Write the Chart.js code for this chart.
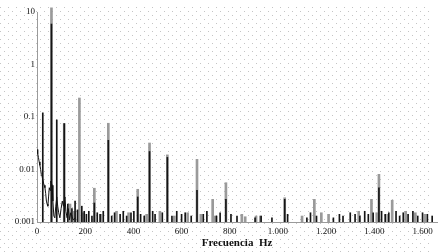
<!DOCTYPE html>
<html>
<head>
<meta charset="utf-8">
<script src="https://cdn.jsdelivr.net/npm/chart.js@4"></script>
<style>
  html, body { margin: 0; padding: 0; background: #fff; }
</style>
</head>
<body>
<canvas id="spectrum" width="442" height="252"></canvas>
<script>
// tick labels
const xTicks = [0, 200, 400, 600, 800, 1000, 1200, 1400, 1600];
const yTicks = [0.001, 0.01, 0.1, 1, 10];

// low frequency continuum (black trace)
const lowHz  = [0, 3, 6, 9, 12, 15, 18, 21, 27, 30, 33, 36, 39, 42, 45, 48, 51, 54, 57, 63, 66, 70, 74, 78, 82, 86, 90, 95, 100, 105, 110, 116, 120, 125, 130, 135, 140, 150, 160];
const lowAmp = [0.024, 0.02, 0.017, 0.014, 0.012, 0.01, 0.008, 0.0075, 0.0055, 0.005, 0.0045, 0.0035, 0.0025, 0.0022, 0.002, 0.003, 0.0045, 0.004, 0.006, 0.005, 0.0025, 0.0013, 0.0012, 0.002, 0.003, 0.002, 0.0015, 0.0012, 0.0018, 0.0025, 0.002, 0.003, 0.0016, 0.0012, 0.0018, 0.0011, 0.0015, 0.0011, 0.0012];

// peaks, black trace
const blackHz  = [24, 60, 82, 113, 238, 296, 418, 467, 541, 664, 784, 1028, 1419,
  128, 145, 158, 168, 186, 196,
  205, 215, 228, 250, 262, 275, 310, 322, 345, 358, 372, 390, 402, 430, 445, 480, 490, 520, 560, 580, 600, 615, 640, 690, 705, 745, 760, 805, 830, 905, 930, 975, 1040, 1120, 1135, 1160, 1230, 1255, 1270, 1300, 1320, 1340, 1360, 1375, 1395, 1430, 1445, 1460, 1490, 1505, 1520, 1540, 1560, 1580, 1600, 1620, 1640];
const blackAmp = [0.12, 5.9, 0.088, 0.075, 0.0023, 0.036, 0.003, 0.022, 0.017, 0.004, 0.0027, 0.0027, 0.0045,
  0.0022, 0.0018, 0.0025, 0.0017, 0.002, 0.0016,
  0.0014, 0.0016, 0.0013, 0.0015, 0.0014, 0.0016, 0.0013, 0.0015, 0.0014, 0.0016, 0.0013, 0.0015, 0.0016, 0.0014, 0.0013, 0.0016, 0.0014, 0.0015, 0.0013, 0.0016, 0.0014, 0.0015, 0.0013, 0.0014, 0.0016, 0.0013, 0.0015, 0.0014, 0.0013, 0.0012, 0.0013, 0.0012, 0.0014, 0.0012, 0.0015, 0.0013, 0.0012, 0.0014, 0.0013, 0.0015, 0.0014, 0.0013, 0.0016, 0.0014, 0.0015, 0.0016, 0.0014, 0.0015, 0.0016, 0.0013, 0.0015, 0.0014, 0.0016, 0.0013, 0.0015, 0.0014, 0.0013];

// peaks, grey trace
const greyHz  = [60, 113, 137, 176, 238, 296, 418, 467, 541, 664, 729, 784, 864, 909, 927, 1028, 1151, 1388, 1419, 1474,
  155, 190, 265, 330, 380, 455, 510, 570, 625, 680, 740, 850, 1100, 1180, 1210, 1335, 1410, 1455, 1530, 1570, 1610];
const greyAmp = [12, 0.075, 0.0022, 0.23, 0.0044, 0.076, 0.0042, 0.032, 0.019, 0.0156, 0.0027, 0.0056, 0.00126, 0.0013, 0.0013, 0.0029, 0.0027, 0.0027, 0.0081, 0.0026,
  0.0016, 0.0015, 0.0014, 0.0016, 0.0015, 0.0014, 0.0016, 0.0013, 0.0015, 0.0014, 0.0013, 0.0014, 0.0013, 0.0015, 0.0014, 0.0016, 0.0015, 0.0014, 0.0016, 0.0015, 0.0014];

const pts = (xs, ys) => xs.map((x, i) => ({ x: x, y: ys[i] }));

// dotted paper background
const dots = {
  id: 'dots',
  beforeDraw(chart) {
    const ctx = chart.ctx;
    ctx.save();
    ctx.fillStyle = '#c4c4c4';
    let row = 0;
    for (let y = 7; y < 252; y += 4, row++) {
      for (let x = row % 2 ? 4 : 0; x < 430; x += 8) ctx.fillRect(x, y, 1, 1);
    }
    ctx.restore();
  }
};

const fmt = v => v >= 1000 ? String(v).replace(/(\d)(\d{3})$/, '$1.$2') : String(v);

new Chart(document.getElementById('spectrum'), {
  type: 'bar',
  data: {
    datasets: [
      {
        type: 'line',
        data: pts(lowHz, lowAmp),
        borderColor: '#111',
        borderWidth: 1,
        pointRadius: 0,
        tension: 0
      },
      {
        data: pts(blackHz, blackAmp),
        backgroundColor: '#151515',
        barThickness: 1,
        grouped: false
      },
      {
        data: pts(greyHz, greyAmp),
        backgroundColor: '#9a9a9a',
        barThickness: 2,
        grouped: false,
        clip: false
      }
    ]
  },
  options: {
    responsive: false,
    animation: false,
    devicePixelRatio: 1,
    layout: { padding: { top: 12, right: 5, left: 0, bottom: 0 } },
    plugins: { legend: { display: false }, tooltip: { enabled: false } },
    scales: {
      x: {
        type: 'linear',
        min: 0,
        max: 1660,
        offset: false,
        afterBuildTicks: s => { s.ticks = xTicks.map(v => ({ value: v })); },
        afterFit: s => { s.height = 30; },
        grid: { display: true, drawOnChartArea: false, drawTicks: false, offset: false },
        border: { display: true, color: '#9a9a9a', width: 1 },
        ticks: {
          maxRotation: 0,
          padding: 4,
          color: '#111',
          font: { family: 'Liberation Serif', size: 9 },
          callback: v => fmt(v)
        },
        title: {
          display: true,
          text: 'Frecuencia  Hz',
          color: '#111',
          padding: { top: 0, bottom: 2 },
          font: { family: 'Liberation Serif', size: 11, weight: 'bold' }
        }
      },
      y: {
        type: 'logarithmic',
        min: 0.001,
        max: 10,
        afterBuildTicks: s => { s.ticks = yTicks.map(v => ({ value: v })); },
        afterFit: s => { s.width = 37; },
        grid: { display: true, drawOnChartArea: false, drawTicks: false },
        border: { display: true, color: '#9a9a9a', width: 1 },
        ticks: {
          padding: 2,
          color: '#111',
          font: { family: 'Liberation Serif', size: 9 },
          callback: v => String(v)
        }
      }
    }
  },
  plugins: [dots]
});
</script>
</body>
</html>
